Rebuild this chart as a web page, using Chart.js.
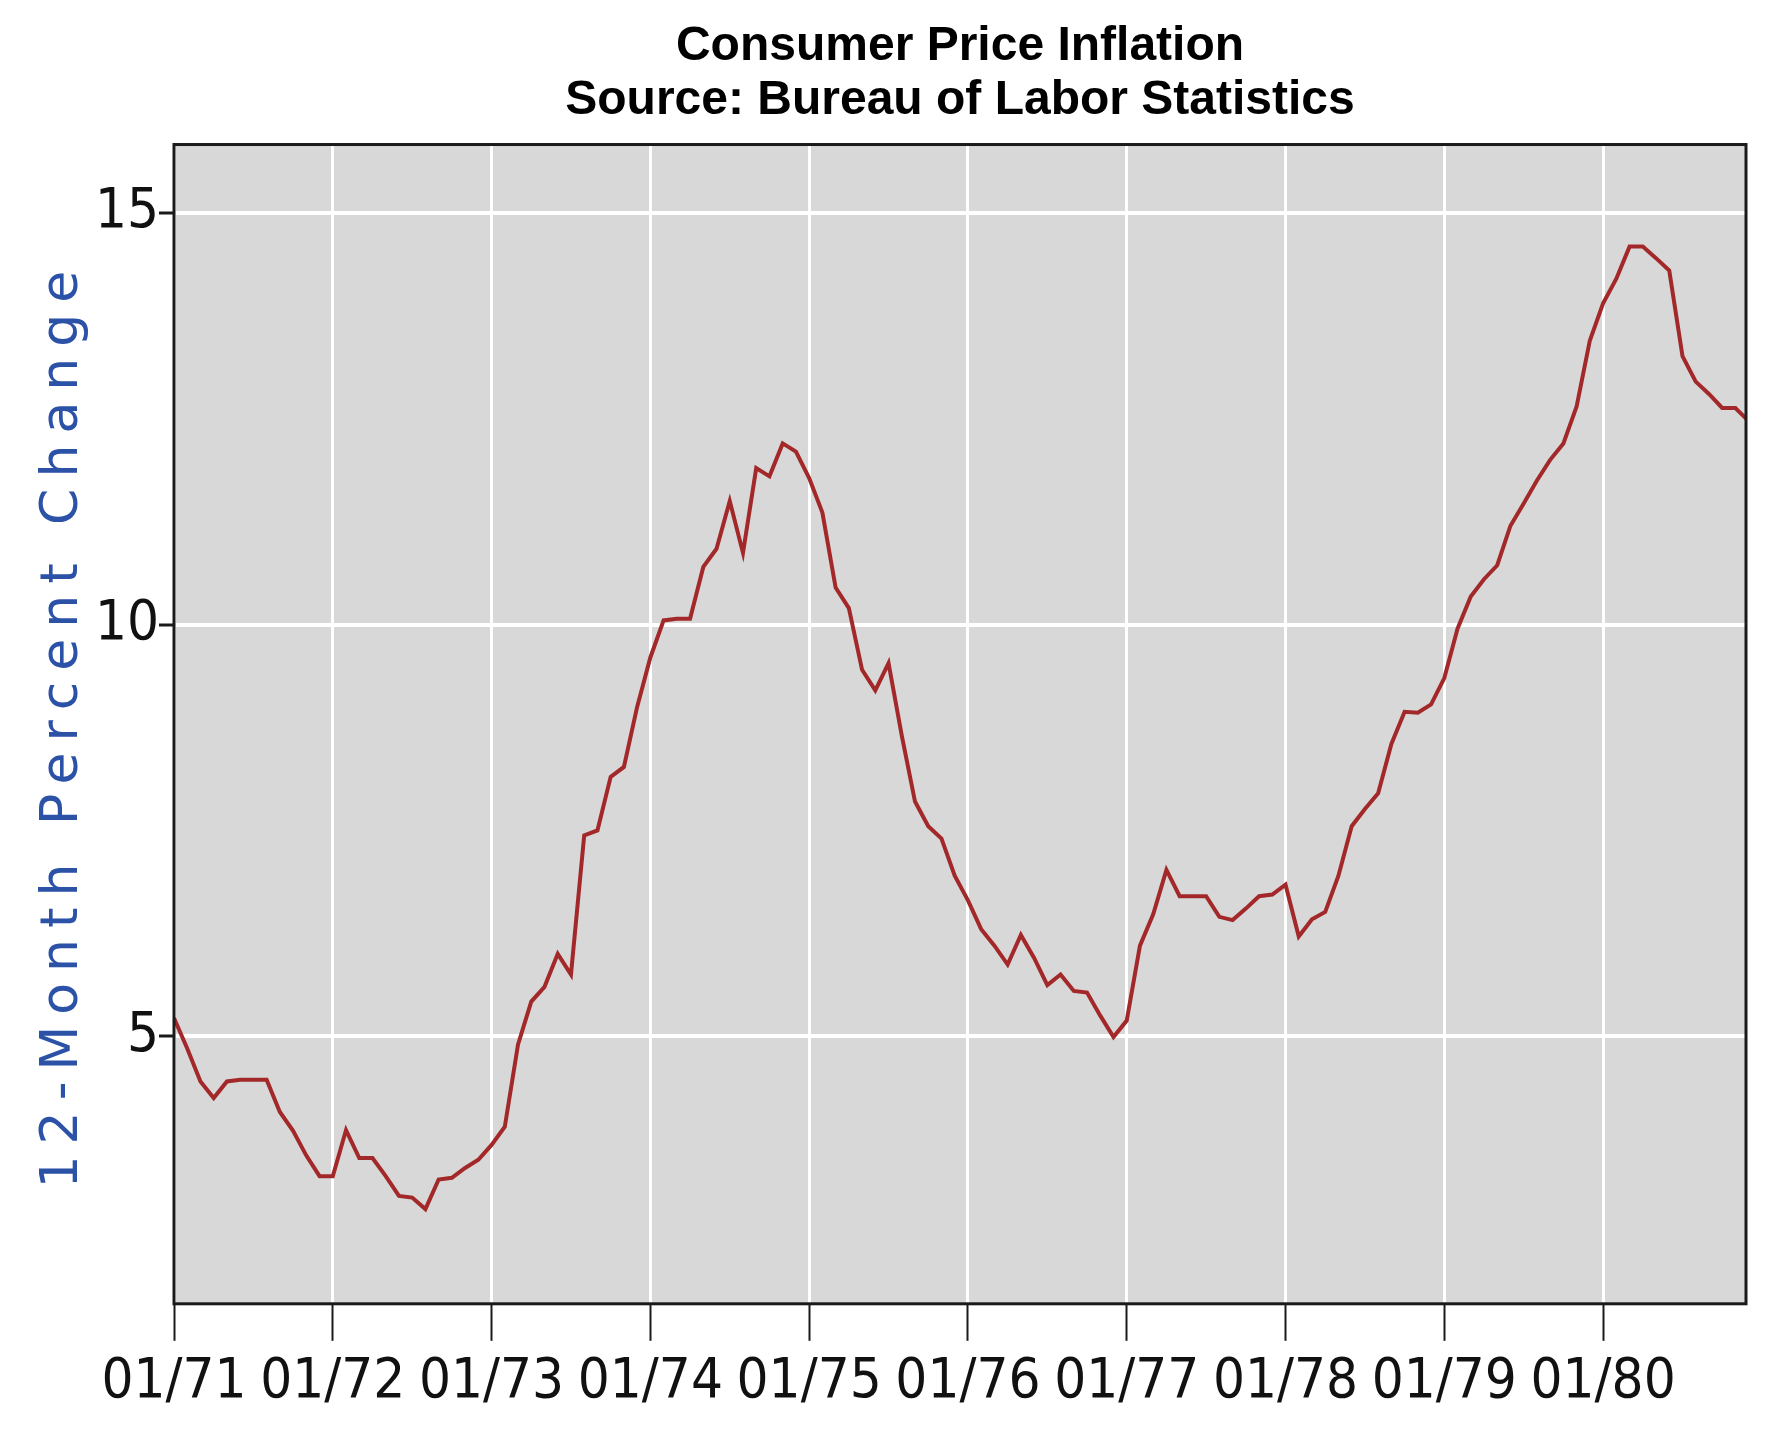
<!DOCTYPE html>
<html>
<head>
<meta charset="utf-8">
<title>Consumer Price Inflation</title>
<script src="https://cdn.jsdelivr.net/npm/chart.js@4.4.1/dist/chart.umd.min.js"></script>
<style>
  html, body { margin: 0; padding: 0; background: #fff; }
  #wrap { width: 1780px; height: 1454px; position: relative; }
</style>
</head>
<body>
<div id="wrap"><canvas id="cpiChart"></canvas></div>
<script>
// 12-month % change, one array per year (Jan..Dec)
const cpi1971 = [5.22, 4.85, 4.45, 4.25, 4.45, 4.47, 4.47, 4.47, 4.08, 3.85, 3.55, 3.3];
const cpi1972 = [3.3, 3.86, 3.52, 3.52, 3.3, 3.06, 3.04, 2.9, 3.26, 3.28, 3.4, 3.5];
const cpi1973 = [3.68, 3.9, 4.9, 5.42, 5.6, 6.0, 5.75, 7.44, 7.5, 8.15, 8.27, 9.0];
const cpi1974 = [9.6, 10.05, 10.07, 10.07, 10.7, 10.92, 11.5, 10.87, 11.9, 11.8, 12.2, 12.1];
const cpi1975 = [11.78, 11.36, 10.45, 10.2, 9.45, 9.2, 9.53, 8.65, 7.85, 7.55, 7.4, 6.95];
const cpi1976 = [6.65, 6.3, 6.1, 5.87, 6.23, 5.95, 5.62, 5.75, 5.55, 5.53, 5.25, 4.99];
const cpi1977 = [5.19, 6.1, 6.48, 7.02, 6.7, 6.7, 6.7, 6.45, 6.41, 6.55, 6.7, 6.72];
const cpi1978 = [6.84, 6.21, 6.42, 6.51, 6.95, 7.55, 7.76, 7.95, 8.55, 8.94, 8.93, 9.03];
const cpi1979 = [9.35, 9.95, 10.34, 10.55, 10.72, 11.2, 11.47, 11.75, 12.0, 12.2, 12.65, 13.45];
const cpi1980 = [13.9, 14.2, 14.59, 14.59, 14.45, 14.3, 13.26, 12.95, 12.8, 12.63, 12.63, 12.47];

const yearLabels = ["01/71", "01/72", "01/73", "01/74", "01/75", "01/76", "01/77", "01/78", "01/79", "01/80"];
const yTicks = [5, 10, 15];

const allValues = [].concat(cpi1971, cpi1972, cpi1973, cpi1974, cpi1975,
  cpi1976, cpi1977, cpi1978, cpi1979, cpi1980);
// x = months since Jan 1971
const points = allValues.map((v, i) => ({ x: i, y: v }));

// grey plot area and black frame around it
const plotFrame = {
  id: 'plotFrame',
  beforeDraw(chart) {
    const { ctx, chartArea: a } = chart;
    ctx.save();
    ctx.fillStyle = '#d8d8d8';
    ctx.fillRect(a.left, a.top, a.right - a.left, a.bottom - a.top);
    ctx.restore();
  },
  afterDatasetsDraw(chart) {
    const { ctx, chartArea: a } = chart;
    ctx.save();
    ctx.strokeStyle = '#1a1a1a';
    ctx.lineWidth = 3;
    ctx.strokeRect(a.left, a.top, a.right - a.left, a.bottom - a.top);
    ctx.restore();
  }
};

// the y title in the picture is stretched along its length
const spacedTitle = {
  id: 'spacedTitle',
  beforeDraw(chart) {
    const s = chart.scales.y;
    if (s._spaced) return;
    const orig = s.drawTitle;
    s.drawTitle = function () {
      this.ctx.save();
      this.ctx.letterSpacing = '11px';
      orig.apply(this, arguments);
      this.ctx.restore();
    };
    s._spaced = true;
  }
};

const tickFont = { family: "'Liberation Sans Narrow', 'DejaVu Sans Condensed', 'Liberation Sans', sans-serif", size: 56 };

new Chart(document.getElementById('cpiChart'), {
  type: 'line',
  data: {
    datasets: [{
      data: points,
      borderColor: '#a3282a',
      borderWidth: 4,
      pointRadius: 0,
      tension: 0,
      fill: false
    }]
  },
  options: {
    responsive: true,
    maintainAspectRatio: false,
    animation: false,
    layout: { padding: { left: 0, right: 34, top: 0, bottom: 30 } },
    plugins: {
      legend: { display: false },
      tooltip: { enabled: false },
      title: {
        display: true,
        fullSize: false,
        text: ['Consumer Price Inflation', 'Source: Bureau of Labor Statistics'],
        color: '#000',
        font: { family: "'Liberation Sans', Arial, sans-serif", size: 48, weight: 'bold', lineHeight: 1.12 },
        padding: { top: 20, bottom: 17 }
      }
    },
    scales: {
      x: {
        type: 'linear',
        min: 0,
        max: 118.8,
        afterBuildTicks: scale => {
          scale.ticks = yearLabels.map((_, i) => ({ value: i * 12 }));
        },
        ticks: {
          autoSkip: false,
          maxRotation: 0,
          padding: 8,
          color: '#111',
          font: tickFont,
          callback: (value) => yearLabels[Math.round(value / 12)]
        },
        grid: {
          color: '#ffffff',
          lineWidth: 3,
          tickLength: 37,
          tickColor: '#1a1a1a',
          tickWidth: 2
        },
        border: { display: false }
      },
      y: {
        min: 1.75,
        max: 15.83,
        afterBuildTicks: scale => {
          scale.ticks = yTicks.map(v => ({ value: v }));
        },
        afterFit: scale => { scale.width = 174; },
        ticks: {
          padding: 0,
          color: '#111',
          font: tickFont
        },
        grid: {
          color: '#ffffff',
          lineWidth: 4,
          tickLength: 15,
          tickColor: '#1a1a1a',
          tickWidth: 3
        },
        border: { display: false },
        title: {
          display: true,
          text: '12-Month Percent Change',
          color: '#2c52a8',
          font: { family: "'DejaVu Sans', Verdana, sans-serif", size: 52 },
          padding: { top: 32, bottom: 0 }
        }
      }
    }
  },
  plugins: [plotFrame, spacedTitle]
});
</script>
</body>
</html>
